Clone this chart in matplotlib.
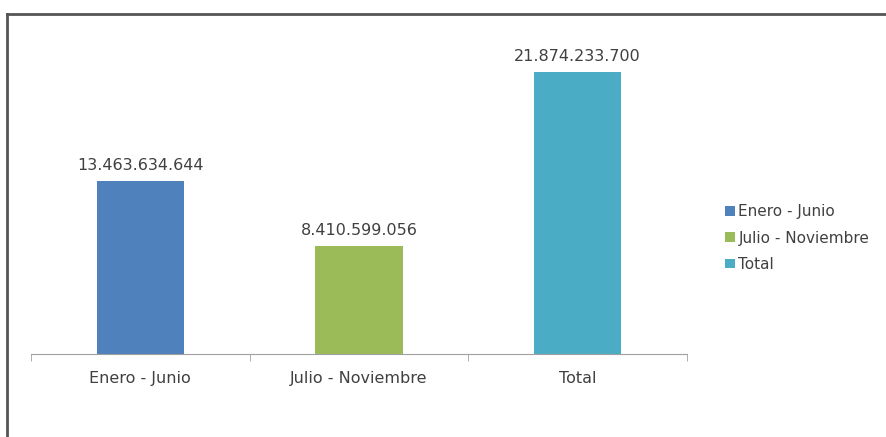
import matplotlib.pyplot as plt
import matplotlib.lines as mlines

# data
categories = ['Enero - Junio', 'Julio - Noviembre', 'Total']
values = [13463634644, 8410599056, 21874233700]
colors = ['#4F81BD', '#9BBB59', '#4BACC6']

plt.rcParams['font.family'] = ['DejaVu Sans']

fig = plt.figure(figsize=(8.87, 4.37), dpi=100)
fig.patch.set_facecolor('white')
ax = fig.add_axes([0.035, 0.19, 0.7395, 0.737])

x = list(range(len(categories)))
bars = ax.bar(x, values, width=0.4, color=colors, label=categories)

for b, v in zip(bars, values):
    txt = f'{v:,}'.replace(',', '.')
    ax.text(b.get_x() + b.get_width() / 2, v + 0.6e9, txt, ha='center', va='bottom',
            fontsize=11.5, color='#404040')

ax.set_xlim(-0.5, 2.5)
ax.set_ylim(0, 25e9)
ax.set_yticks([])
for s in ['top', 'right', 'left']:
    ax.spines[s].set_visible(False)
ax.spines['bottom'].set_color('#A0A0A0')
ax.set_xticks(x)
ax.set_xticklabels(categories, fontsize=11.5, color='#404040')
ax.tick_params(axis='x', which='major', length=0, pad=12)
ax.set_xticks([-0.5, 0.5, 1.5, 2.5], minor=True)
ax.tick_params(axis='x', which='minor', length=5, color='#A0A0A0')

leg = ax.legend(handles=list(bars), labels=categories, loc='center left',
                bbox_to_anchor=(1.047, 0.36), frameon=False, fontsize=11,
                handlelength=0.6, handleheight=0.6, handletextpad=0.25,
                labelspacing=0.75, labelcolor='#404040', borderpad=0)

# outer chart frame (only top and left visible in the reference)
fig.add_artist(mlines.Line2D([0.008, 1.0], [0.969, 0.969], transform=fig.transFigure,
                             color='#555555', linewidth=2))
fig.add_artist(mlines.Line2D([0.008, 0.008], [0.0, 0.969], transform=fig.transFigure,
                             color='#555555', linewidth=2))

fig.savefig('out.png', dpi=100)
